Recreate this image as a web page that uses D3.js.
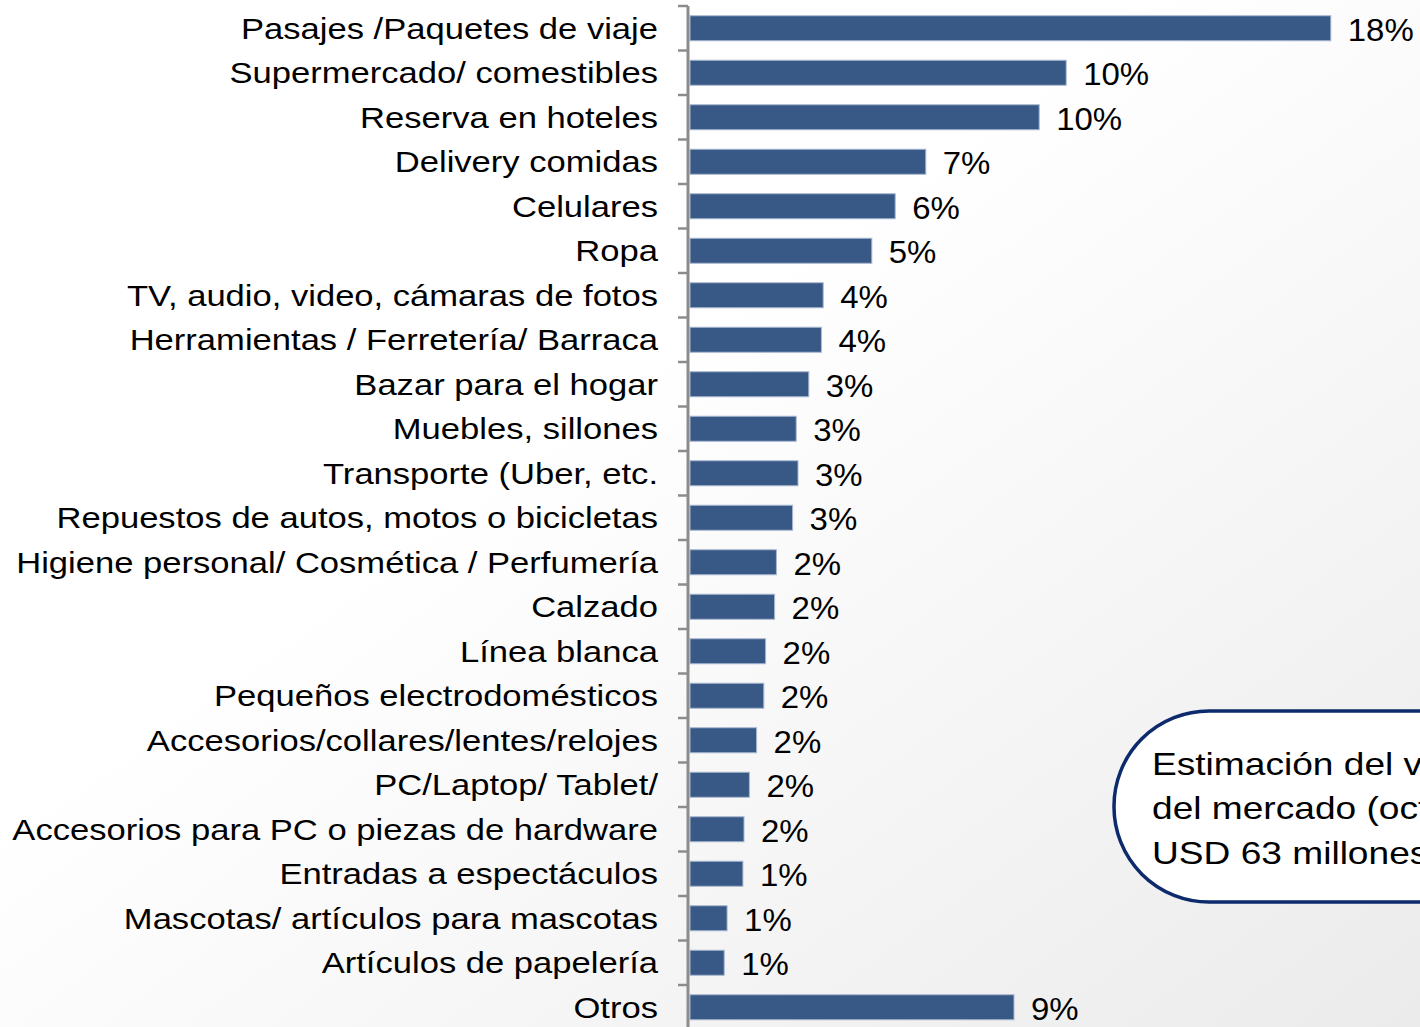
<!DOCTYPE html>
<html>
<head>
<meta charset="utf-8">
<script src="https://cdn.jsdelivr.net/npm/d3@7/dist/d3.min.js"></script>
<style>
  html, body { margin: 0; padding: 0; overflow: hidden; background: #fff; }
  svg { display: block; font-family: "Liberation Sans", Arial, sans-serif; }
</style>
</head>
<body>
<svg id="chart" width="1420" height="1027"></svg>
<script>
// Share of online purchases by category (percent)
const categories = [
  "Pasajes /Paquetes de viaje",
  "Supermercado/ comestibles",
  "Reserva en hoteles",
  "Delivery comidas",
  "Celulares",
  "Ropa",
  "TV, audio, video, cámaras de fotos",
  "Herramientas / Ferretería/ Barraca",
  "Bazar para el hogar",
  "Muebles, sillones",
  "Transporte (Uber, etc.",
  "Repuestos de autos, motos o bicicletas",
  "Higiene personal/ Cosmética / Perfumería",
  "Calzado",
  "Línea blanca",
  "Pequeños electrodomésticos",
  "Accesorios/collares/lentes/relojes",
  "PC/Laptop/ Tablet/",
  "Accesorios para PC o piezas de hardware",
  "Entradas a espectáculos",
  "Mascotas/ artículos para mascotas",
  "Artículos de papelería",
  "Otros"
];
const shares = [
  17.8, 10.45, 9.7, 6.55, 5.7, 5.05, 3.7, 3.65, 3.3, 2.95, 3.0, 2.85,
  2.4, 2.35, 2.1, 2.05, 1.85, 1.65, 1.5, 1.47, 1.03, 0.95, 9.0
];
const calloutLines = [
  "Estimación del valor",
  "del mercado (octubre):",
  "USD 63 millones"
];

const data = categories.map((c, i) => ({ cat: c, v: shares[i] }));
const svg = d3.select("#chart");
const W = 1420, H = 1027;

// soft diagonal background
const defs = svg.append("defs");
const bg = defs.append("linearGradient").attr("id", "bg")
  .attr("x1", 0).attr("y1", 0).attr("x2", 1).attr("y2", 1);
bg.append("stop").attr("offset", 0.4).attr("stop-color", "#ffffff");
bg.append("stop").attr("offset", 1).attr("stop-color", "#ebebeb");
svg.append("rect").attr("width", W).attr("height", H).attr("fill", "url(#bg)");

const x0 = 690;
const x = d3.scaleLinear().domain([0, 18]).range([x0, x0 + 648]);
const y = d3.scaleBand().domain(categories)
  .range([6, 1029.5]).paddingInner(0.438).paddingOuter(0.219);
const step = y.step();

// bars
svg.append("g").selectAll("rect").data(data).join("rect")
  .attr("x", x(0))
  .attr("y", d => y(d.cat))
  .attr("width", d => x(d.v) - x(0))
  .attr("height", y.bandwidth())
  .attr("fill", "#385886")
  .attr("stroke", "#a7b8d0")
  .attr("stroke-width", 1);

// value labels (slightly widened type)
const fmt = d => Math.round(d) + "%";
const valStretch = 1.03;
svg.append("g").selectAll("text").data(data).join("text")
  .attr("transform", d => `translate(${x(d.v) + 17},${y(d.cat) + y.bandwidth() / 2 + 1}) scale(${valStretch},1)`)
  .attr("dy", "0.36em")
  .attr("font-size", 32)
  .attr("fill", "#000")
  .text(d => fmt(d.v));

// category axis (labels in a widened face)
const axisX = 688;
const labStretch = 1.153;
const axis = svg.append("g").attr("transform", `translate(${axisX},1)`)
  .call(d3.axisLeft(y).tickSize(0).tickPadding(30));
axis.select(".domain").remove();
axis.selectAll("text")
  .attr("x", -30 / labStretch)
  .attr("transform", `scale(${labStretch},1)`)
  .attr("font-size", 30)
  .attr("font-family", "'Liberation Sans', Arial, sans-serif")
  .attr("fill", "#000");

// axis line and boundary ticks
const y0 = y.range()[0];
svg.append("line")
  .attr("x1", axisX).attr("x2", axisX)
  .attr("y1", y0).attr("y2", y0 + step * categories.length)
  .attr("stroke", "#8c8c8c").attr("stroke-width", 3);
svg.append("g").selectAll("line").data(d3.range(categories.length + 1)).join("line")
  .attr("x1", axisX - 10).attr("x2", axisX)
  .attr("y1", i => y0 + i * step).attr("y2", i => y0 + i * step)
  .attr("stroke", "#8c8c8c").attr("stroke-width", 2.5);

// callout
const boxStretch = 1.16;
const box = svg.append("g");
box.append("rect")
  .attr("x", 1114).attr("y", 711).attr("width", 460).attr("height", 191)
  .attr("rx", 95).attr("ry", 95)
  .attr("fill", "#ffffff").attr("stroke", "#0c2a6c").attr("stroke-width", 3.5);
box.selectAll("text").data(calloutLines).join("text")
  .attr("transform", (d, i) => `translate(1152,${763 + i * 44.5}) scale(${boxStretch},1)`)
  .attr("dy", "0.36em")
  .attr("font-size", 32)
  .attr("fill", "#000")
  .text(d => d);
</script>
</body>
</html>
